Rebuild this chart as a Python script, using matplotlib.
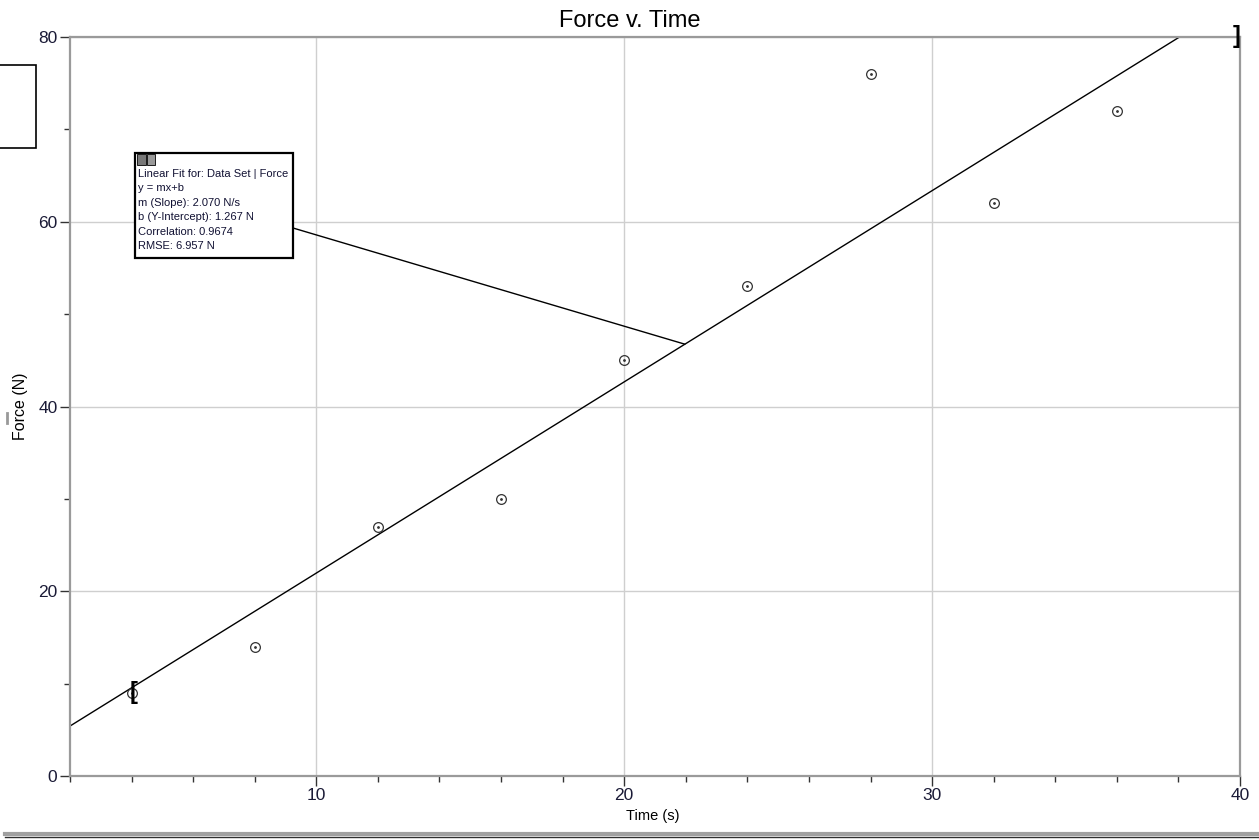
import matplotlib
matplotlib.use("Agg")
import matplotlib.pyplot as plt
import numpy as np
from matplotlib import ticker
from matplotlib.patches import Rectangle
from matplotlib.lines import Line2D

plt.rcParams['font.family'] = ['Liberation Sans', 'DejaVu Sans']

# data
time_s = [4, 8, 12, 16, 20, 24, 28, 32, 36]
force_n = [9, 14, 27, 30, 45, 53, 76, 62, 72]

# linear fit shown in the box
slope = 2.070
intercept = 1.267
fit_text = ("Linear Fit for: Data Set | Force\n"
            "y = mx+b\n"
            "m (Slope): 2.070 N/s\n"
            "b (Y-Intercept): 1.267 N\n"
            "Correlation: 0.9674\n"
            "RMSE: 6.957 N")
leader_x = 21.97

W, H = 1259, 840
fig = plt.figure(figsize=(W/100, H/100), dpi=100)
ax = fig.add_axes([70/W, 1-776/H, (1240-70)/W, (776-37)/H])

ax.set_xlim(2, 40)
ax.set_ylim(0, 80)
ax.xaxis.set_major_locator(ticker.MultipleLocator(10))
ax.xaxis.set_minor_locator(ticker.MultipleLocator(2))
ax.yaxis.set_major_locator(ticker.MultipleLocator(20))
ax.yaxis.set_minor_locator(ticker.MultipleLocator(10))
ax.grid(True, which='major', color='#cfcfcf', lw=1)
ax.set_axisbelow(True)

for s in ax.spines.values():
    s.set_color('#9a9a9a')
    s.set_linewidth(1.6)

ax.tick_params(which='major', direction='out', length=7, width=1, color='#333333',
               labelsize=12.5, labelcolor='#1a1a36', pad=2)
ax.tick_params(which='minor', direction='out', length=4, width=1, color='#333333')

# fit line
xf = np.array([2, 40])
ax.plot(xf, slope * xf + intercept, color='black', lw=1)

# points: open circle with a dot in the middle
ax.plot(time_s, force_n, 'o', ms=7, mfc='none', mec='#333333', mew=0.9)
ax.plot(time_s, force_n, '.', ms=2, color='#333333')

# region brackets
ax.text(time_s[0] + 0.08, force_n[0], '[', ha='center', va='center', fontsize=17,
        fontweight='bold', color='black')
ax.text(40.02, 80, ']', ha='right', va='center', fontsize=17, fontweight='bold',
        color='black', clip_on=False)

# fit annotation box (drawn in pixel layout of the window)
box = Rectangle((135/W, 1-258/H), 158/W, 105/H, fc='white', ec='black', lw=1.6,
                zorder=5)
fig.add_artist(box)
fig.text(138/W, 1-169/H, fit_text, fontsize=8.0, ha='left', va='top',
         linespacing=1.55, color='#111133', zorder=6)
fig.add_artist(Rectangle((137/W, 1-165/H), 9/W, 11/H, fc='#777777',
                         ec='black', lw=0.6, zorder=6))
fig.add_artist(Rectangle((147/W, 1-165/H), 8/W, 11/H, fc='#999999',
                         ec='black', lw=0.6, zorder=6))
# leader from box edge to the fit line
ax.annotate('', xy=(leader_x, slope * leader_x + intercept),
            xytext=(293/W, 1-228/H), textcoords='figure fraction',
            arrowprops=dict(arrowstyle='-', color='black', lw=1,
                            shrinkA=0, shrinkB=0))

fig.text(630/W, 1-21/H, 'Force v. Time', fontsize=17, ha='center', va='center')
ax.set_xlabel('Time (s)', fontsize=10.5)
ax.set_ylabel('Force (N)', fontsize=11.5)
ax.xaxis.set_label_coords(0.498, -0.045)
ax.yaxis.set_label_coords(-0.036, 0.5)

# stray window bits around the graph
fig.add_artist(Rectangle((-0.01, 1-148/H), 36/W + 0.01, 83/H, fc='none',
                         ec='black', lw=1.2))
fig.add_artist(Line2D([7/W, 7/W], [1-423/H, 1-413/H], color='#999999', lw=2))
fig.add_artist(Line2D([5/W, 1], [1-834/H, 1-834/H], color='#a0a0a0', lw=3))
fig.add_artist(Line2D([5/W, 1], [1-837/H, 1-837/H], color='#303030', lw=1))

fig.savefig('out.png', dpi=100)
